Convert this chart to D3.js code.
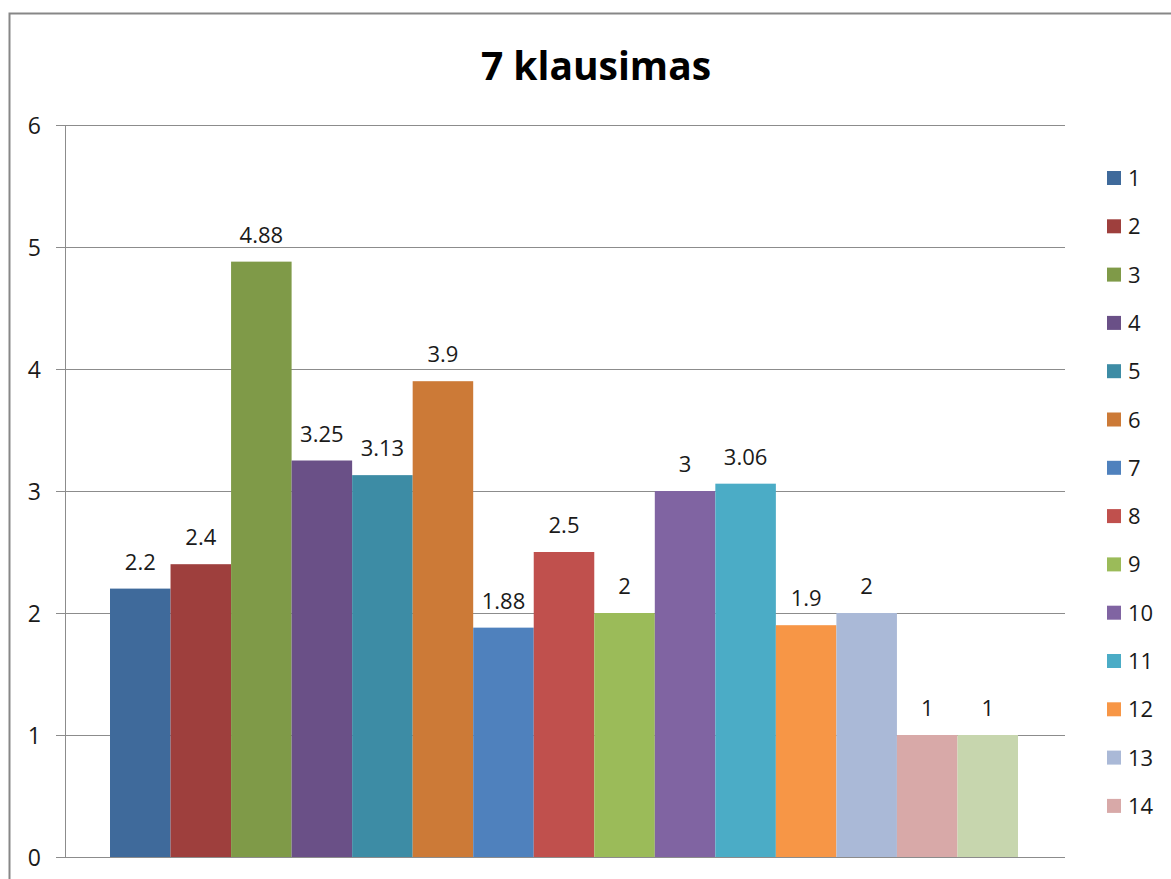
<!DOCTYPE html>
<html>
<head>
<meta charset="utf-8">
<script src="https://cdn.jsdelivr.net/npm/d3@7"></script>
<style>
  html, body { margin: 0; padding: 0; background: #fff; }
  svg { display: block; font-family: "Open Sans", "Noto Sans", sans-serif; }
</style>
</head>
<body>
<svg id="chart" width="1171" height="879"></svg>
<script>
  // ── Data ───────────────────────────────────────────────────────────────
  const seriesNames = ['1', '2', '3', '4', '5', '6', '7', '8', '9', '10', '11', '12', '13', '14', '15'];
  const seriesValues = [2.2, 2.4, 4.88, 3.25, 3.13, 3.9, 1.88, 2.5, 2, 3, 3.06, 1.9, 2, 1, 1];
  const seriesColors = ['#3f6a9b', '#9e3f3d', '#7f9a48', '#6a5087', '#3d8ca5', '#cc7a37',
                        '#4f81bd', '#c0504d', '#9bbb59', '#8064a2', '#4bacc6', '#f79646',
                        '#aab9d7', '#d8a9a8', '#c7d6ae'];
  const yTicks = [0, 1, 2, 3, 4, 5, 6];
  const title = '7 klausimas';
  const legendShown = 14;   // the 15th entry is clipped in the original legend

  const svg = d3.select('#chart');
  const plot = { left: 65, right: 1065, top: 125, bottom: 857 };
  const gridCol = '#8c8c8c';
  const textCol = '#1a1a1a';

  // outer chart frame (only left/top edges visible)
  svg.append('rect')
    .attr('x', 9.5).attr('y', 13.5).attr('width', 1300).attr('height', 1000)
    .attr('fill', 'none').attr('stroke', '#878787').attr('stroke-width', 2);

  svg.append('text')
    .attr('x', 596).attr('y', 80)
    .attr('text-anchor', 'middle')
    .attr('font-size', 39).attr('font-weight', 'bold')
    .attr('fill', '#000')
    .text(title);

  const y = d3.scaleLinear().domain([0, 6]).range([plot.bottom, plot.top]);
  const x = d3.scaleBand().domain(seriesNames).range([110, 1018]).paddingInner(0);

  // gridlines + tick marks
  svg.append('g').selectAll('line').data(yTicks).join('line')
    .attr('x1', plot.left - 9).attr('x2', plot.right)
    .attr('y1', d => Math.round(y(d)) + 0.5).attr('y2', d => Math.round(y(d)) + 0.5)
    .attr('stroke', gridCol).attr('stroke-width', 1);

  svg.append('line')
    .attr('x1', plot.left + 0.5).attr('x2', plot.left + 0.5)
    .attr('y1', plot.top).attr('y2', plot.bottom)
    .attr('stroke', gridCol);

  svg.append('g').selectAll('text').data(yTicks).join('text')
    .attr('x', 41).attr('y', d => y(d) + 9)
    .attr('text-anchor', 'end')
    .attr('font-size', 23).attr('fill', textCol)
    .text(d => d);

  // bars
  svg.append('g').selectAll('rect').data(seriesValues).join('rect')
    .attr('x', (d, i) => x(seriesNames[i]))
    .attr('width', x.bandwidth())
    .attr('y', d => y(d))
    .attr('height', d => plot.bottom - y(d))
    .attr('fill', (d, i) => seriesColors[i]);

  // data labels
  svg.append('g').selectAll('text').data(seriesValues).join('text')
    .attr('x', (d, i) => x(seriesNames[i]) + x.bandwidth() / 2)
    .attr('y', d => y(d) - 19)
    .attr('text-anchor', 'middle')
    .attr('font-size', 22).attr('fill', textCol)
    .text(d => d);

  // legend
  const leg = svg.append('g').selectAll('g').data(seriesNames.slice(0, legendShown)).join('g')
    .attr('transform', (d, i) => `translate(1107, ${178 + i * 48.3})`);
  leg.append('rect')
    .attr('x', 0).attr('y', -7).attr('width', 14).attr('height', 14)
    .attr('fill', (d, i) => seriesColors[i]);
  leg.append('text')
    .attr('x', 21).attr('y', 8)
    .attr('font-size', 22).attr('fill', textCol)
    .text(d => d);
</script>
</body>
</html>
